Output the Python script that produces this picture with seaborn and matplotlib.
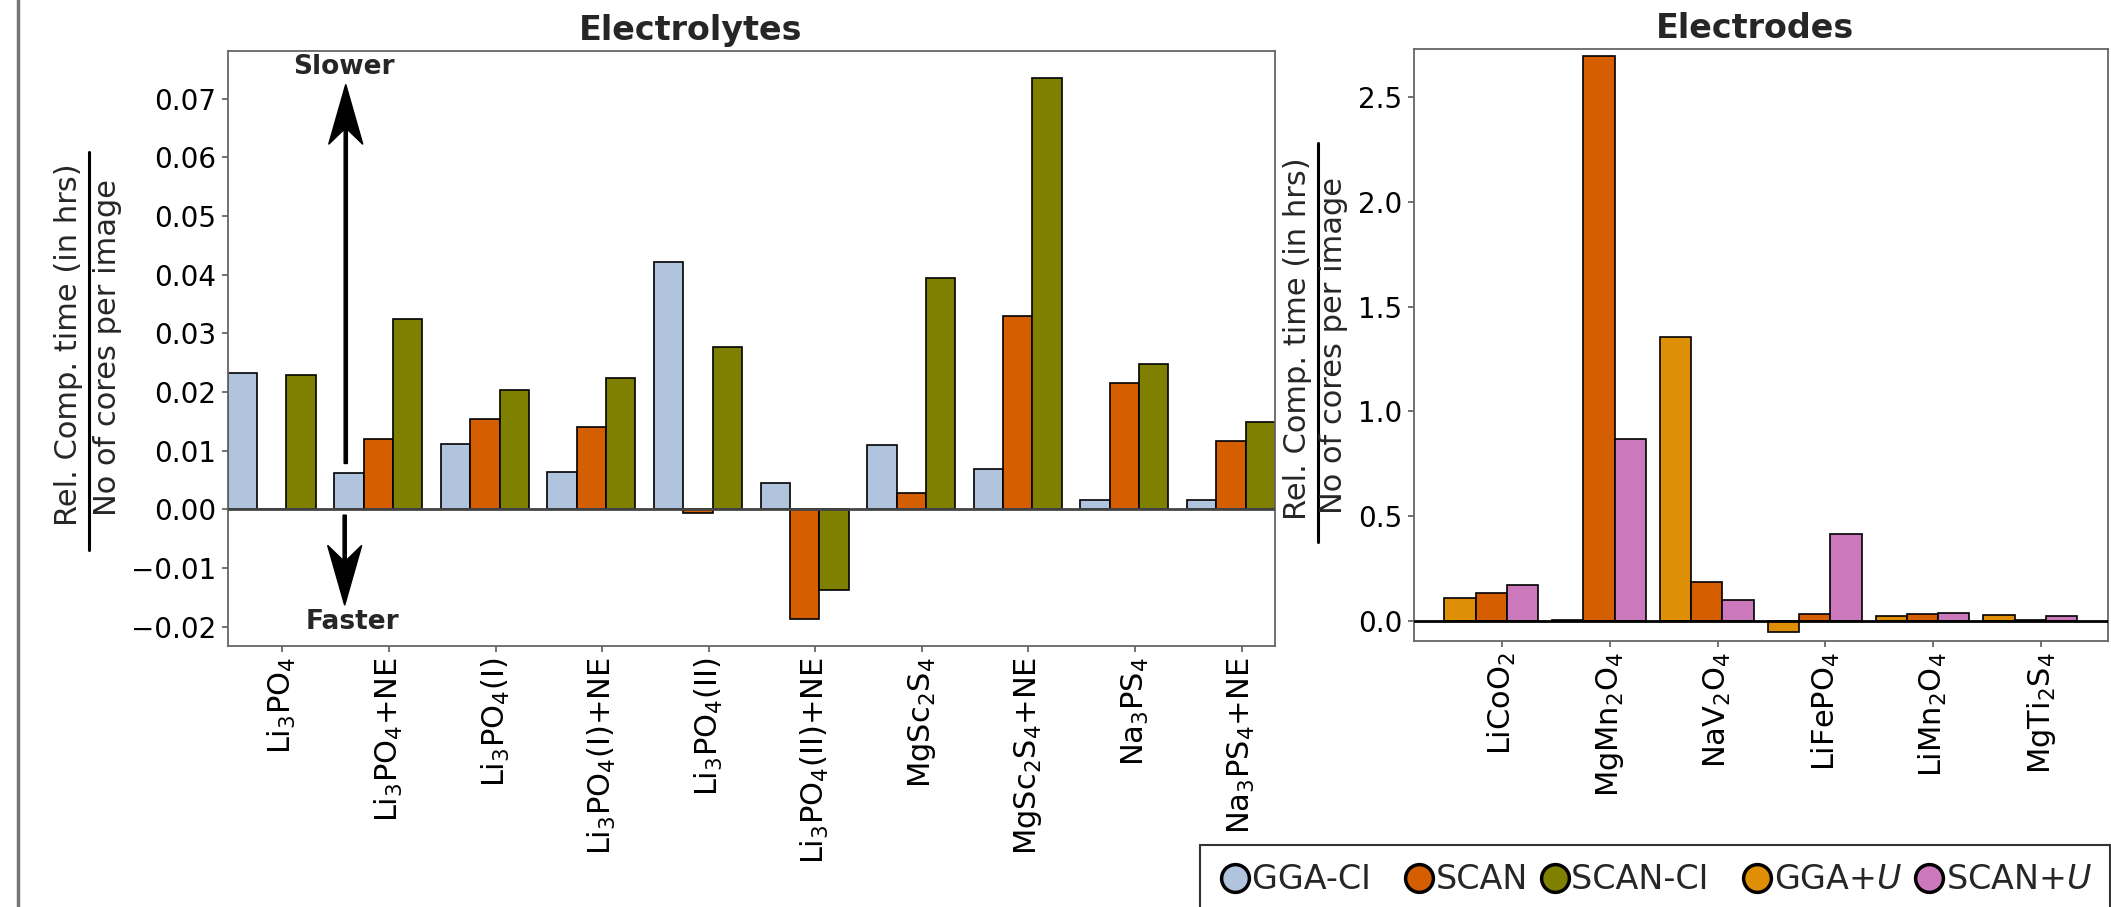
import numpy as np
import pandas as pd
import matplotlib
matplotlib.use("Agg")
import matplotlib.pyplot as plt
import seaborn as sns
from matplotlib.lines import Line2D

# ---------------- data ----------------
electrolytes = ["Li$_3$PO$_4$", "Li$_3$PO$_4$+NE", "Li$_3$PO$_4$(I)", "Li$_3$PO$_4$(I)+NE",
                "Li$_3$PO$_4$(II)", "Li$_3$PO$_4$(II)+NE", "MgSc$_2$S$_4$", "MgSc$_2$S$_4$+NE",
                "Na$_3$PS$_4$", "Na$_3$PS$_4$+NE"]
elyte_gga_ci = [0.0232, 0.0061, 0.0111, 0.0064, 0.0422, 0.0045, 0.0110, 0.0068, 0.0016, 0.0015]
elyte_scan = [0.0, 0.0119, 0.0154, 0.0140, -0.0006, -0.0187, 0.0027, 0.0330, 0.0216, 0.0116]
elyte_scan_ci = [0.0228, 0.0324, 0.0204, 0.0223, 0.0276, -0.0138, 0.0394, 0.0735, 0.0248, 0.0149]

electrodes = ["LiCoO$_2$", "MgMn$_2$O$_4$", "NaV$_2$O$_4$", "LiFePO$_4$", "LiMn$_2$O$_4$", "MgTi$_2$S$_4$"]
electrode_gga_u = [0.110, 0.003, 1.357, -0.055, 0.021, 0.027]
electrode_scan = [0.131, 2.695, 0.186, 0.033, 0.030, 0.002]
electrode_scan_u = [0.169, 0.866, 0.100, 0.414, 0.037, 0.024]

elyte_yticks = [-0.02, -0.01, 0.00, 0.01, 0.02, 0.03, 0.04, 0.05, 0.06, 0.07]
electrode_yticks = [0.0, 0.5, 1.0, 1.5, 2.0, 2.5]

elyte_methods = ["GGA-CI", "SCAN", "SCAN-CI"]
electrode_methods = ["GGA+U", "SCAN", "SCAN+U"]
legend_keys = ["GGA-CI", "SCAN", "SCAN-CI", "GGA+U", "SCAN+U"]
legend_labels = ["GGA-CI  ", "SCAN", "SCAN-CI  ", "GGA+$U$", "SCAN+$U$"]
colors = {"GGA-CI": "#B0C4DE", "SCAN": "#D55E00", "SCAN-CI": "#808000",
          "GGA+U": "#DE8F05", "SCAN+U": "#CC78BC"}

label_num = "Rel. Comp. time (in hrs)"
label_den = "No of cores per image"

# ---------------- frames ----------------
df_elyte = pd.DataFrame({
    "material": electrolytes * 3,
    "method": sum([[m] * len(electrolytes) for m in elyte_methods], []),
    "value": elyte_gga_ci + elyte_scan + elyte_scan_ci,
})
df_electrode = pd.DataFrame({
    "material": electrodes * 3,
    "method": sum([[m] * len(electrodes) for m in electrode_methods], []),
    "value": electrode_gga_u + electrode_scan + electrode_scan_u,
})

# ---------------- style ----------------
sns.set_style("white")
plt.rcParams["font.family"] = ["DejaVu Sans"]
plt.rcParams["mathtext.fontset"] = "dejavusans"

W, H = 2111, 907
fig = plt.figure(figsize=(W / 100, H / 100), dpi=100)
ax1 = fig.add_axes([227.7 / W, 1 - 646 / H, (1275 - 227.7) / W, (646 - 51) / H])
ax2 = fig.add_axes([1413.5 / W, 1 - 641 / H, (2108 - 1413.5) / W, (641 - 49) / H])

spine_c = "#666666"

def style(ax):
    for s in ax.spines.values():
        s.set_color(spine_c)
        s.set_linewidth(1.3)
    ax.tick_params(axis="both", direction="out", length=4.5, width=1.3, color=spine_c,
                   labelcolor="black", left=True, bottom=True)
    ax.tick_params(axis="y", labelsize=20)
    ax.set_xlabel("")
    ax.set_ylabel("")

def frac_label(xn, yn, xd, yd, xb, yb0, yb1):
    fig.text(xn / W, 1 - yn / H, label_num, rotation=90, ha="center", va="center", fontsize=22)
    fig.text(xd / W, 1 - yd / H, label_den, rotation=90, ha="center", va="center", fontsize=22)
    fig.add_artist(Line2D([xb / W, xb / W], [1 - yb1 / H, 1 - yb0 / H],
                          transform=fig.transFigure, color="black", lw=2.2))

# ---- Electrolytes ----
sns.barplot(data=df_elyte, x="material", y="value", hue="method", order=electrolytes,
            hue_order=elyte_methods, palette=colors, saturation=1, width=0.825,
            edgecolor="black", linewidth=1.2, errorbar=None, legend=False, ax=ax1, zorder=2)
ax1.axhline(0, color="#444444", lw=2, zorder=3)
ax1.set_xlim(-0.4125, len(electrolytes) - 1 + 0.4125)
ax1.set_ylim(-0.0233, 0.0781)
ax1.set_yticks(elyte_yticks)
ax1.set_xticks(np.arange(len(electrolytes)) + 0.1)
ax1.set_xticklabels(electrolytes, rotation=90, fontsize=22)
style(ax1)
ax1.set_title("Electrolytes", fontsize=24, fontweight="bold", x=0.442, pad=8)
frac_label(68.5, 344.2, 107.4, 347.3, 89.3, 151.7, 550)

ax1.arrow(0.695, 0.0078, 0, 0.0646, width=0.03, head_width=0.32, head_length=0.0102,
          overhang=0.25, length_includes_head=True, color="black", zorder=4)
ax1.arrow(0.685, -0.0010, 0, -0.01535, width=0.03, head_width=0.32, head_length=0.0102,
          overhang=0.25, length_includes_head=True, color="black", zorder=4)
ax1.text(0.675, 0.0753, "Slower", ha="center", va="center", fontsize=19, fontweight="bold")
ax1.text(0.757, -0.0192, "Faster", ha="center", va="center", fontsize=19, fontweight="bold")

# ---- Electrodes ----
sns.barplot(data=df_electrode, x="material", y="value", hue="method", order=electrodes,
            hue_order=electrode_methods, palette=colors, saturation=1, width=0.87,
            edgecolor="black", linewidth=1.2, errorbar=None, legend=False, ax=ax2, zorder=2)
ax2.axhline(0, color="black", lw=2, zorder=3)
ax2.set_xlim(-0.72, len(electrodes) - 1 + 0.72)
ax2.set_ylim(-0.097, 2.73)
ax2.set_yticks(electrode_yticks)
ax2.set_xticks(np.arange(len(electrodes)) + 0.1)
ax2.set_xticklabels(electrodes, rotation=90, fontsize=22)
style(ax2)
ax2.set_title("Electrodes", fontsize=24, fontweight="bold", x=0.492, pad=8)
frac_label(1297, 339, 1333, 345, 1317.7, 143, 541.7)

# ---- legend ----
handles = [Line2D([], [], ls="none", marker="o", markersize=20, markerfacecolor=colors[m],
                  markeredgecolor="black", markeredgewidth=2.5)
           for m in legend_keys]
leg = fig.legend(handles, legend_labels, loc="upper left", bbox_to_anchor=(1200 / W, 1 - 845 / H),
                 ncol=5, fontsize=24, frameon=True, fancybox=False, edgecolor="black",
                 handlelength=1.0, handletextpad=0.0, columnspacing=0.31, borderpad=0.55,
                 borderaxespad=0)
leg.get_frame().set_linewidth(1.5)

# left border line of the original frame
fig.add_artist(Line2D([18 / W, 18 / W], [0, 1], transform=fig.transFigure,
                      color="#777777", lw=2.5))

fig.savefig("out.png", dpi=100)
